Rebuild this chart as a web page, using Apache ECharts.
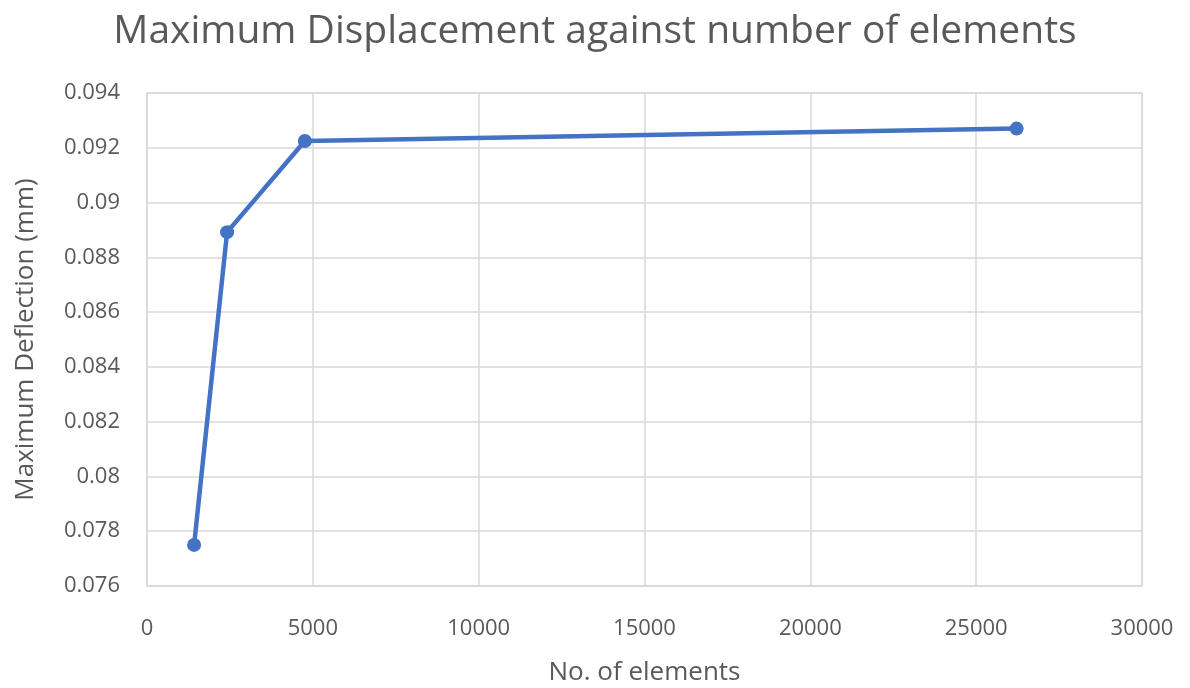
<!DOCTYPE html>
<html>
<head>
<meta charset="utf-8">
<script src="https://cdn.jsdelivr.net/npm/echarts@6/dist/echarts.min.js"></script>
<style>
  html, body { margin: 0; padding: 0; background: #fff; }
  #chart { width: 1190px; height: 688px; }
</style>
</head>
<body>
<div id="chart"></div>
<script>
// Mesh convergence: element count vs. peak deflection
const elementCounts = [1420, 2415, 4760, 26220];
const maxDeflection = [0.0775, 0.08892, 0.09225, 0.0927];
const yTicks = [0.076, 0.078, 0.08, 0.082, 0.084, 0.086, 0.088, 0.09, 0.092, 0.094];

const points = elementCounts.map((n, i) => [n, maxDeflection[i]]);
const font = '"Open Sans", "Noto Sans", sans-serif';
const grey = '#595959';
const gridGrey = '#d9d9d9';

const chart = echarts.init(document.getElementById('chart'));
chart.setOption({
  animation: false,
  title: {
    text: 'Maximum Displacement against number of elements',
    left: 'center',
    top: 7,
    textStyle: { fontFamily: font, fontSize: 39, fontWeight: 'normal', color: grey }
  },
  grid: { left: 147, right: 48, top: 93, bottom: 102, outerBoundsMode: 'none' },
  xAxis: {
    type: 'value',
    min: 0, max: 30000, interval: 5000,
    name: 'No. of elements',
    nameLocation: 'middle',
    nameGap: 74,
    nameTextStyle: { fontFamily: font, fontSize: 26, color: grey },
    axisLine: { show: true, lineStyle: { color: gridGrey, width: 1.5 } },
    axisTick: { show: false },
    axisLabel: { fontFamily: font, fontSize: 22, color: grey, margin: 32, formatter: v => String(v) },
    splitLine: { show: true, lineStyle: { color: gridGrey, width: 1.5 } }
  },
  yAxis: {
    type: 'value',
    min: 0.076, max: 0.094, interval: 0.002,
    name: 'Maximum Deflection (mm)',
    nameLocation: 'middle',
    nameGap: 108,
    nameTextStyle: { fontFamily: font, fontSize: 26, color: grey },
    axisLine: { show: true, lineStyle: { color: gridGrey, width: 1.5 } },
    axisTick: { show: false },
    axisLabel: {
      fontFamily: font, fontSize: 22, color: grey, margin: 27,
      formatter: v => {
        const t = yTicks.find(k => Math.abs(k - v) < 1e-9);
        return String(t !== undefined ? t : +v.toFixed(3));
      }
    },
    splitLine: { show: true, lineStyle: { color: gridGrey, width: 1.5 } }
  },
  series: [{
    type: 'line',
    data: points,
    symbol: 'circle',
    symbolSize: 14,
    lineStyle: { color: '#4472C4', width: 4.5 },
    itemStyle: { color: '#4472C4' }
  }]
});
// close the plot frame on the top and right edges
chart.setOption({
  graphic: [{
    type: 'rect',
    shape: { x: 147, y: 93, width: 1190 - 147 - 48, height: 688 - 93 - 102 },
    style: { fill: 'none', stroke: gridGrey, lineWidth: 1.5 },
    silent: true,
    z: -1
  }]
});
</script>
</body>
</html>
